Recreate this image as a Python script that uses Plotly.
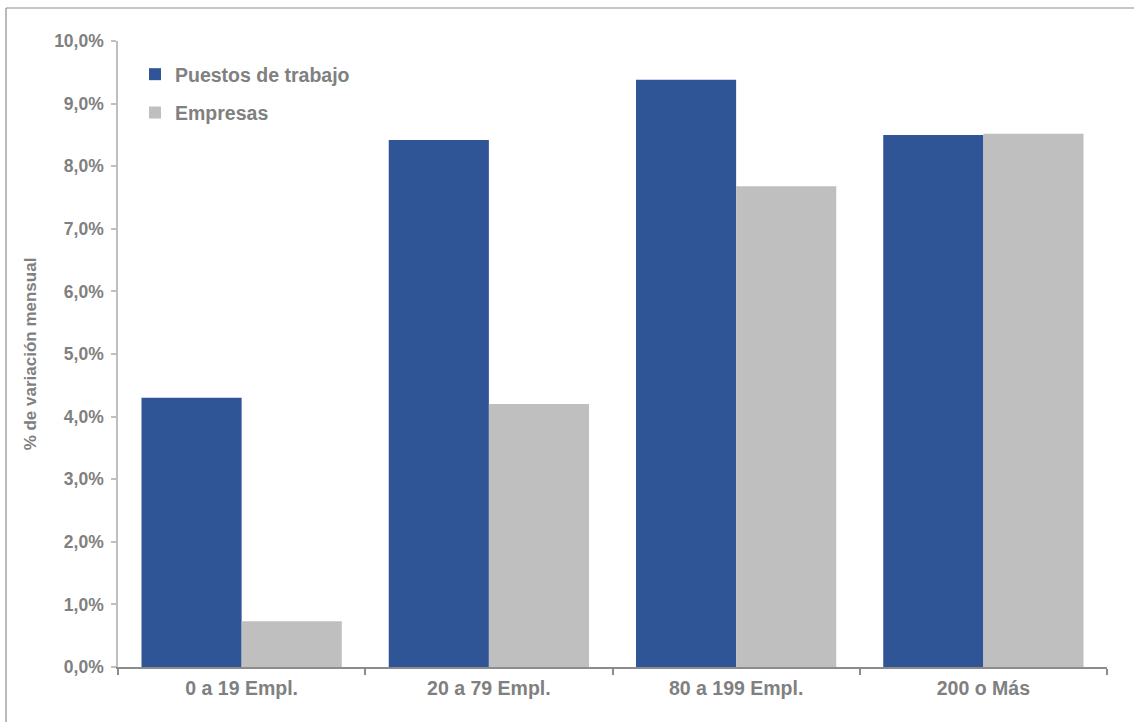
import plotly.graph_objects as go

# Monthly variation by company size
categories = ["0 a 19 Empl.", "20 a 79 Empl.", "80 a 199 Empl.", "200 o Más"]
puestos = [4.30, 8.42, 9.38, 8.50]
empresas = [0.73, 4.20, 7.68, 8.52]
y_ticks = [0, 1, 2, 3, 4, 5, 6, 7, 8, 9, 10]
y_tick_labels = [f"{v:.1f}%".replace(".", ",") for v in y_ticks]

BLUE = "#2F5597"
GRAY_BAR = "#BFBFBF"
TEXT = "#808080"
FONT = "Liberation Sans"

fig = go.Figure()
fig.add_trace(go.Bar(
    x=categories, y=puestos, name="Puestos de trabajo",
    marker=dict(color=BLUE, line=dict(width=0)), legendgroup="a",
))
fig.add_trace(go.Bar(
    x=categories, y=empresas, name="Empresas",
    marker=dict(color=GRAY_BAR, line=dict(width=0)), legendgroup="b",
))

W, H = 1134, 722
L, R, T, B = 118, 27, 41, 55
pw, ph = W - L - R, H - T - B


def px_x(x):
    return (x - L) / pw


def px_y(y):
    return (H - B - y) / ph


fig.update_layout(
    width=W, height=H,
    margin=dict(l=L, r=R, t=T, b=B),
    paper_bgcolor="white", plot_bgcolor="white",
    barmode="group", bargap=0.19, bargroupgap=0,
    font=dict(family=FONT, color=TEXT),
    legend=dict(
        x=px_x(135), y=px_y(55), xanchor="left", yanchor="top",
        font=dict(family=FONT, size=19.5, color=TEXT, weight="bold"),
        bgcolor="rgba(0,0,0,0)", tracegroupgap=10, itemwidth=30,
    ),
    xaxis=dict(
        showline=True, linecolor="#8C8C8C", linewidth=1.5,
        ticks="outside", tickson="boundaries", ticklen=6,
        tickcolor="#8C8C8C", tickwidth=1.5, ticklabelstandoff=3,
        tickfont=dict(family=FONT, size=19.5, color=TEXT, weight="bold"),
        showgrid=False, zeroline=False,
    ),
    yaxis=dict(
        range=[0, 10], tickmode="array", tickvals=y_ticks, ticktext=y_tick_labels,
        showline=True, linecolor="#BFBFBF", linewidth=1.5,
        ticks="outside", ticklen=5, tickcolor="#BFBFBF", tickwidth=1.5,
        ticklabelstandoff=4,
        tickfont=dict(family=FONT, size=17.5, color=TEXT, weight="bold"),
        showgrid=False, zeroline=False,
        title=dict(text="% de variación mensual", standoff=13,
                   font=dict(family=FONT, size=17, color=TEXT, weight="bold")),
    ),
    shapes=[
        dict(type="line", xref="paper", yref="paper",
             x0=px_x(6), x1=px_x(1140), y0=px_y(8), y1=px_y(8),
             line=dict(color="#8C8C8C", width=1.2)),
        dict(type="line", xref="paper", yref="paper",
             x0=px_x(6), x1=px_x(6), y0=px_y(8), y1=px_y(730),
             line=dict(color="#8C8C8C", width=1.2)),
    ],
)

fig.write_html("out.html")
